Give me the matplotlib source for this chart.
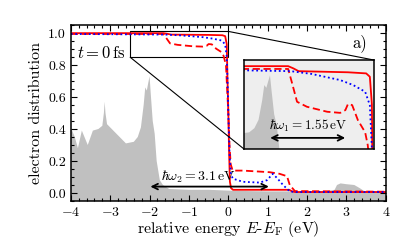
import matplotlib
matplotlib.use("Agg")
import matplotlib.pyplot as plt
from matplotlib.ticker import MultipleLocator
from mpl_toolkits.axes_grid1.inset_locator import mark_inset

plt.rcParams['font.family'] = 'cmr10'
plt.rcParams['mathtext.fontset'] = 'cm'
plt.rcParams['axes.formatter.use_mathtext'] = True

# density of states (gray background)
dos_E = [-4.0, -3.9, -3.82, -3.72, -3.57, -3.44, -3.3, -3.2, -3.16, -3.14, -3.12, -3.08,
         -3.0, -2.8, -2.6, -2.4, -2.3, -2.22, -2.15, -2.11, -2.07, -2.04, -2.0, -1.97,
         -1.92, -1.87, -1.82, -1.74, -1.66, -1.5, -1.0, -0.5, 0.0, 0.5, 1.0, 1.5, 2.0,
         2.5, 2.7, 2.76, 2.85, 3.0, 3.2, 3.34, 3.45, 4.0]
dos_v = [0.41, 0.35, 0.28, 0.39, 0.30, 0.39, 0.40, 0.42, 0.50, 0.57, 0.50, 0.43,
         0.41, 0.36, 0.31, 0.32, 0.35, 0.41, 0.55, 0.66, 0.64, 0.68, 0.73, 0.62,
         0.45, 0.37, 0.20, 0.08, 0.05, 0.025, 0.02, 0.02, 0.015, 0.012, 0.01, 0.01, 0.01,
         0.012, 0.02, 0.05, 0.06, 0.055, 0.05, 0.03, 0.012, 0.01]

# solid red
solid_E = [-4.0, -1.65, -1.55, -1.45, -0.5, -0.15, -0.08, -0.04, -0.02, 0.0, 0.02, 0.04,
           0.07, 0.12, 0.2, 1.55, 1.62, 1.7, 4.0]
solid_v = [0.999, 0.999, 0.995, 0.990, 0.988, 0.986, 0.98, 0.93, 0.7, 0.5, 0.25, 0.07,
           0.03, 0.02, 0.02, 0.02, 0.01, 0.006, 0.006]

# dotted blue
dot_E = [-4.0, -1.6, -1.2, -0.65, -0.4, -0.17, -0.08, -0.04, -0.02, 0.0, 0.03, 0.06,
         0.11, 0.37, 0.8, 0.98, 1.13, 1.25, 1.39, 1.56, 1.7, 4.0]
dot_v = [0.994, 0.990, 0.985, 0.974, 0.965, 0.953, 0.929, 0.85, 0.7, 0.5, 0.25, 0.13,
         0.09, 0.07, 0.065, 0.08, 0.12, 0.09, 0.05, 0.01, 0.006, 0.006]

# dashed red
dash_E = [-4.0, -1.65, -1.58, -1.48, -1.29, -0.9, -0.65, -0.55, -0.5, -0.42, -0.31,
          -0.17, -0.12, -0.06, -0.03, 0.0, 0.03, 0.06, 0.11, 0.37, 1.05, 1.3, 1.49,
          1.56, 1.69, 4.0]
dash_v = [0.994, 0.994, 0.97, 0.935, 0.926, 0.917, 0.915, 0.92, 0.931, 0.929, 0.902,
          0.88, 0.857, 0.8, 0.65, 0.5, 0.3, 0.18, 0.14, 0.14, 0.13, 0.12, 0.105,
          0.05, 0.012, 0.008]

gray = '#c0c0c0'

fig = plt.figure(figsize=(4.07, 2.52), dpi=100)
ax = fig.add_axes([0.174, 0.2024, 0.774, 0.6984])

ax.fill_between(dos_E, -1, dos_v, color=gray, lw=0)
ax.plot(solid_E, solid_v, color='red', lw=1.3)
ax.plot(dash_E, dash_v, color='red', lw=1.3, ls=(0, (4, 2)))
ax.plot(dot_E, dot_v, color='blue', lw=1.3, ls=(0, (1, 1.5)))

ax.annotate('', xy=(-2.05, 0.04), xytext=(1.1, 0.04),
            arrowprops=dict(arrowstyle='<->', color='black', lw=1.3))
ax.text(-0.75, 0.048, r'$\hbar\omega_2=3.1\,\mathrm{eV}$', ha='center', va='bottom', fontsize=10)
ax.text(-3.85, 0.875, r'$t=0\,\mathrm{fs}$', ha='left', va='center', fontsize=12)
ax.text(3.15, 0.94, 'a)', ha='left', va='center', fontsize=12)

ax.set_xlim(-4, 4)
ax.set_ylim(-0.05, 1.05)
ax.xaxis.set_major_locator(MultipleLocator(1))
ax.xaxis.set_minor_locator(MultipleLocator(0.2))
ax.yaxis.set_major_locator(MultipleLocator(0.2))
ax.yaxis.set_minor_locator(MultipleLocator(0.05))
ax.tick_params(which='both', direction='in', top=True, right=True, labelsize=10, width=0.8)
ax.tick_params(which='major', length=4)
ax.tick_params(which='minor', length=2)
ax.yaxis.set_major_formatter(matplotlib.ticker.FormatStrFormatter('%.1f'))
for s in ax.spines.values():
    s.set_linewidth(1.1)
ax.set_xlabel(r'relative energy $E$-$E_\mathrm{F}$ (eV)', fontsize=11.5, labelpad=0)
ax.set_ylabel('electron distribution', fontsize=11.5, labelpad=4)

# inset
axins = fig.add_axes([0.5995, 0.4087, 0.3194, 0.353])
axins.set_facecolor('#eeeeee')
axins.fill_between(dos_E, 0, [0.8 + 0.25 * v for v in dos_v], color=gray, lw=0)
axins.plot(solid_E, solid_v, color='red', lw=1.3)
axins.plot(dash_E, dash_v, color='red', lw=1.3, ls=(0, (4, 2)))
axins.plot(dot_E, dot_v, color='blue', lw=1.3, ls=(0, (1, 1.5)))
axins.annotate('', xy=(-2.05, 0.87), xytext=(-0.5, 0.87),
               arrowprops=dict(arrowstyle='<->', color='black', lw=1.3))
axins.text(-1.27, 0.877, r'$\hbar\omega_1=1.55\,\mathrm{eV}$', ha='center', va='bottom', fontsize=9.5)
axins.set_xlim(-2.5, 0)
axins.set_ylim(0.85, 1.01)
axins.set_xticks([])
axins.set_yticks([])
for s in axins.spines.values():
    s.set_linewidth(1.1)

mark_inset(ax, axins, loc1=3, loc2=1, fc='none', ec='black', lw=0.8)

fig.savefig('out.png', dpi=100)
